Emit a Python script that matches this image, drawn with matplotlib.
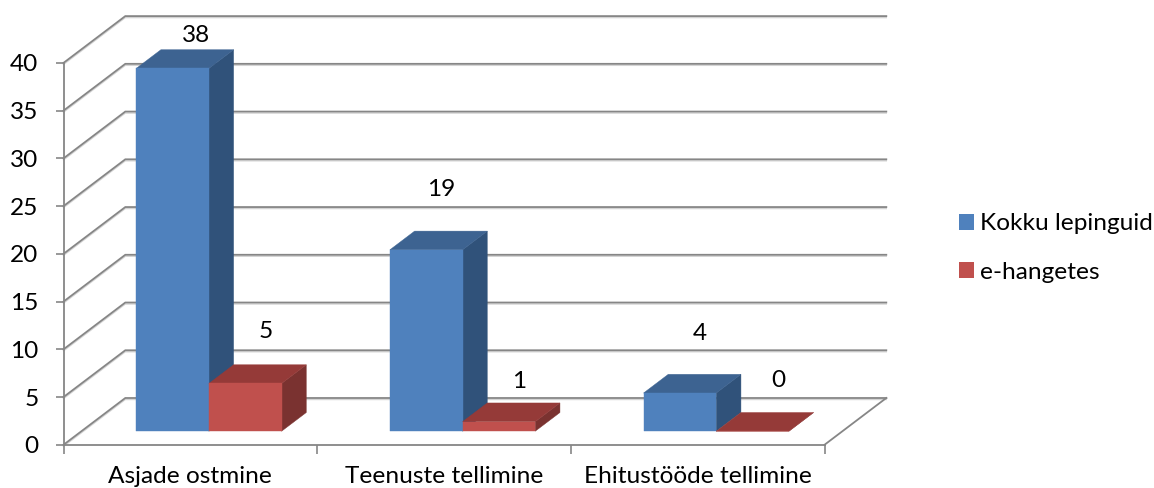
import matplotlib
matplotlib.use("Agg")
import matplotlib.pyplot as plt
from matplotlib.patches import Polygon, Patch

categories = ["Asjade ostmine", "Teenuste tellimine", "Ehitustööde tellimine"]
kokku = [38, 19, 4]
ehangetes = [5, 1, 0]
series_names = ["Kokku lepinguid", "e-hangetes"]
y_ticks = [0, 5, 10, 15, 20, 25, 30, 35, 40]

# layout / style
W, H = 1154, 488
L, R, T, B = 63.5, 824.5, 62.9, 444.8
DX = 61.8 / ((R - L) / 3)      # depth shear, category units
DY = 46.8 / ((B - T) / 40)     # depth shear, value units
GRID = "#868686"
BLUE = ("#4F81BD", "#3D6391", "#30527A")
RED = ("#C0504D", "#953A38", "#7A3230")
D0, D1 = 0.29, 0.69
OFF0, BW = 0.216, 0.2865
FS = 17.6
# label offsets in px from the front-top centre of each bar
LAB_K = [(23, 33), (15, 60), (20, 60)]
LAB_E = [(20, 52), (20, 40), (26, 51)]

plt.rcParams["font.family"] = ["Lato", "DejaVu Sans"]
fig = plt.figure(figsize=(W / 100, H / 100), dpi=100)
ax = fig.add_axes([L / W, 1 - B / H, (R - L) / W, (B - T) / H])
ax.set_xlim(0, 3)
ax.set_ylim(0, 40)
ax.patch.set_visible(False)


def P(x, v, d):
    return (x + d * DX, v + d * DY)


# walls: gridlines
for v in y_ticks:
    xs, ys = zip(P(0, v, 0), P(0, v, 1), P(3, v, 1))
    ax.plot(xs, ys, color="#d4d4d4", lw=1.0, clip_on=False, zorder=1,
            transform=ax.transData + matplotlib.transforms.ScaledTranslation(0, -1.5 / 100, fig.dpi_scale_trans))
    ax.plot(xs, ys, color=GRID, lw=1.3, clip_on=False, zorder=1.1, solid_joinstyle="miter")
xs, ys = zip(P(3, 0, 0), P(3, 0, 1))
ax.plot(xs, ys, color=GRID, lw=1.3, clip_on=False, zorder=1.1)


def bar(x0, w, v, cols, z):
    x1 = x0 + w
    faces = [
        ([P(x1, 0, D0), P(x1, 0, D1), P(x1, v, D1), P(x1, v, D0)], cols[2]),
        ([P(x0, v, D0), P(x0, v, D1), P(x1, v, D1), P(x1, v, D0)], cols[1]),
        ([P(x0, 0, D0), P(x1, 0, D0), P(x1, v, D0), P(x0, v, D0)], cols[0]),
    ]
    for pts, c in faces:
        ax.add_patch(Polygon(pts, closed=True, facecolor=c, edgecolor=c, lw=0.3,
                             clip_on=False, zorder=z))


for i in range(len(categories)):
    xb = i + OFF0
    bar(xb, BW, kokku[i], BLUE, 3 + i * 0.1)
    bar(xb + BW, BW, ehangetes[i], RED, 3.05 + i * 0.1)
    for x0, v, off in ((xb, kokku[i], LAB_K[i]), (xb + BW, ehangetes[i], LAB_E[i])):
        px, py = P(x0 + BW / 2, v, D0)
        ax.annotate(str(v), (px, py), xytext=(off[0] * 0.72, off[1] * 0.72),
                    textcoords="offset points", ha="center", va="center",
                    fontsize=FS, color="black", annotation_clip=False, zorder=6)

for s in ("top", "right"):
    ax.spines[s].set_visible(False)
for s in ("left", "bottom"):
    ax.spines[s].set_color(GRID)
    ax.spines[s].set_linewidth(1.3)
    ax.spines[s].set_zorder(2)

ax.set_yticks(y_ticks)
ax.set_yticklabels([str(v) for v in y_ticks], fontsize=FS)
ax.set_xticks([0, 1, 2, 3])
ax.set_xticklabels([])
ax.set_xticks([0.5, 1.5, 2.5], minor=True)
ax.set_xticklabels(categories, minor=True, fontsize=FS)
ax.tick_params(axis="y", length=5.5, width=1.2, color=GRID, pad=12.5)
ax.tick_params(axis="x", which="major", length=6.5, width=1.2, color=GRID)
ax.tick_params(axis="x", which="minor", length=0, pad=15)

handles = [Patch(facecolor=BLUE[0], label=series_names[0]),
           Patch(facecolor=RED[0], label=series_names[1])]
fig.legend(handles=handles, loc="center left", bbox_to_anchor=(959 / W, 1 - 248 / H),
           frameon=False, fontsize=FS, handlelength=0.61, handleheight=0.61,
           handletextpad=0.25, labelspacing=1.12, borderpad=0, borderaxespad=0)

fig.savefig("out.png", dpi=100)
